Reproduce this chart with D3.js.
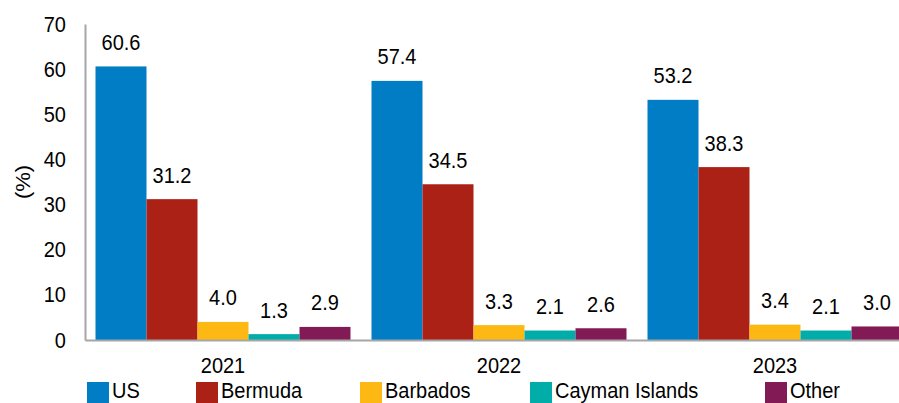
<!DOCTYPE html>
<html>
<head>
<meta charset="utf-8">
<script src="https://cdn.jsdelivr.net/npm/d3@7/dist/d3.min.js"></script>
<style>
html,body{margin:0;padding:0;background:#fff;overflow:hidden;}
svg{display:block;font-family:"Liberation Sans",Arial,sans-serif;}
</style>
</head>
<body>
<svg id="chart" width="899" height="403"></svg>
<script>
const years = ["2021", "2022", "2023"];
const seriesNames = ["US", "Bermuda", "Barbados", "Cayman Islands", "Other"];
const US = [60.6, 57.4, 53.2];
const Bermuda = [31.2, 34.5, 38.3];
const Barbados = [4.0, 3.3, 3.4];
const Cayman = [1.3, 2.1, 2.1];
const Other = [2.9, 2.6, 3.0];
const yTicks = [0, 10, 20, 30, 40, 50, 60, 70];
const colors = ["#007DC5", "#AC2116", "#FDB813", "#00ADA9", "#821A55"];

const seriesValues = [US, Bermuda, Barbados, Cayman, Other];
const svg = d3.select("#chart");
const plotLeft = 85, plotRight = 913, plotTop = 24, plotBottom = 340;
const SY = 1.1; // vertical stretch of text glyphs

const x0 = d3.scaleBand().domain(years).range([plotLeft, plotRight]).paddingInner(0).paddingOuter(0);
const x1 = d3.scaleBand().domain(seriesNames).range([10.5, x0.bandwidth() - 10.5]).padding(0);
const y = d3.scaleLinear().domain([0, 70]).range([plotBottom, plotTop]);
const color = d3.scaleOrdinal().domain(seriesNames).range(colors);

// bars
const groups = svg.selectAll("g.year").data(years).enter().append("g")
  .attr("class", "year")
  .attr("transform", d => `translate(${x0(d)},0)`);
groups.each(function(yr, i) {
  const g = d3.select(this);
  const rows = seriesNames.map((s, k) => ({s, v: seriesValues[k][i]}));
  g.selectAll("rect").data(rows).enter().append("rect")
    .attr("x", d => x1(d.s))
    .attr("y", d => y(d.v))
    .attr("width", x1.bandwidth())
    .attr("height", d => y(0) - y(d.v))
    .attr("fill", d => color(d.s));
  g.selectAll("text").data(rows).enter().append("text")
    .attr("transform", d => `translate(${x1(d.s) + x1.bandwidth() / 2},${y(d.v) - 16.5}) scale(1,${SY})`)
    .attr("text-anchor", "middle")
    .attr("font-size", 20)
    .attr("fill", "#000")
    .text(d => d.v.toFixed(1));
});

// y axis
const yAxis = d3.axisLeft(y).tickValues(yTicks).tickSize(0).tickPadding(19);
const yg = svg.append("g").attr("transform", `translate(${plotLeft},0)`).call(yAxis);
yg.select(".domain").attr("stroke", "#a6a6a6").attr("stroke-width", 2);
yg.selectAll("text").attr("font-size", 20).attr("fill", "#000")
  .attr("font-family", "Liberation Sans, Arial, sans-serif")
  .attr("transform", `scale(1,${SY})`);

// x axis
const xAxis = d3.axisBottom(x0).tickSize(0).tickPadding(16);
const xg = svg.append("g").attr("transform", `translate(0,${plotBottom})`).call(xAxis);
xg.select(".domain").attr("stroke", "#a6a6a6").attr("stroke-width", 2);
xg.selectAll("text").attr("font-size", 20).attr("fill", "#000")
  .attr("font-family", "Liberation Sans, Arial, sans-serif")
  .attr("transform", `scale(1,${SY})`);

// y label
svg.append("text")
  .attr("transform", `translate(30,182) scale(1,${SY}) rotate(-90)`)
  .attr("text-anchor", "middle")
  .attr("font-size", 20)
  .text("(%)");

// legend
const legendX = [87, 196, 360, 530, 765];
const lg = svg.selectAll("g.leg").data(seriesNames).enter().append("g")
  .attr("class", "leg")
  .attr("transform", (d, i) => `translate(${legendX[i]},382)`);
lg.append("rect").attr("width", 22).attr("height", 21).attr("fill", d => color(d));
lg.append("text").attr("transform", `translate(25,16) scale(1,${SY})`).attr("font-size", 20).text(d => d);
</script>
</body>
</html>
